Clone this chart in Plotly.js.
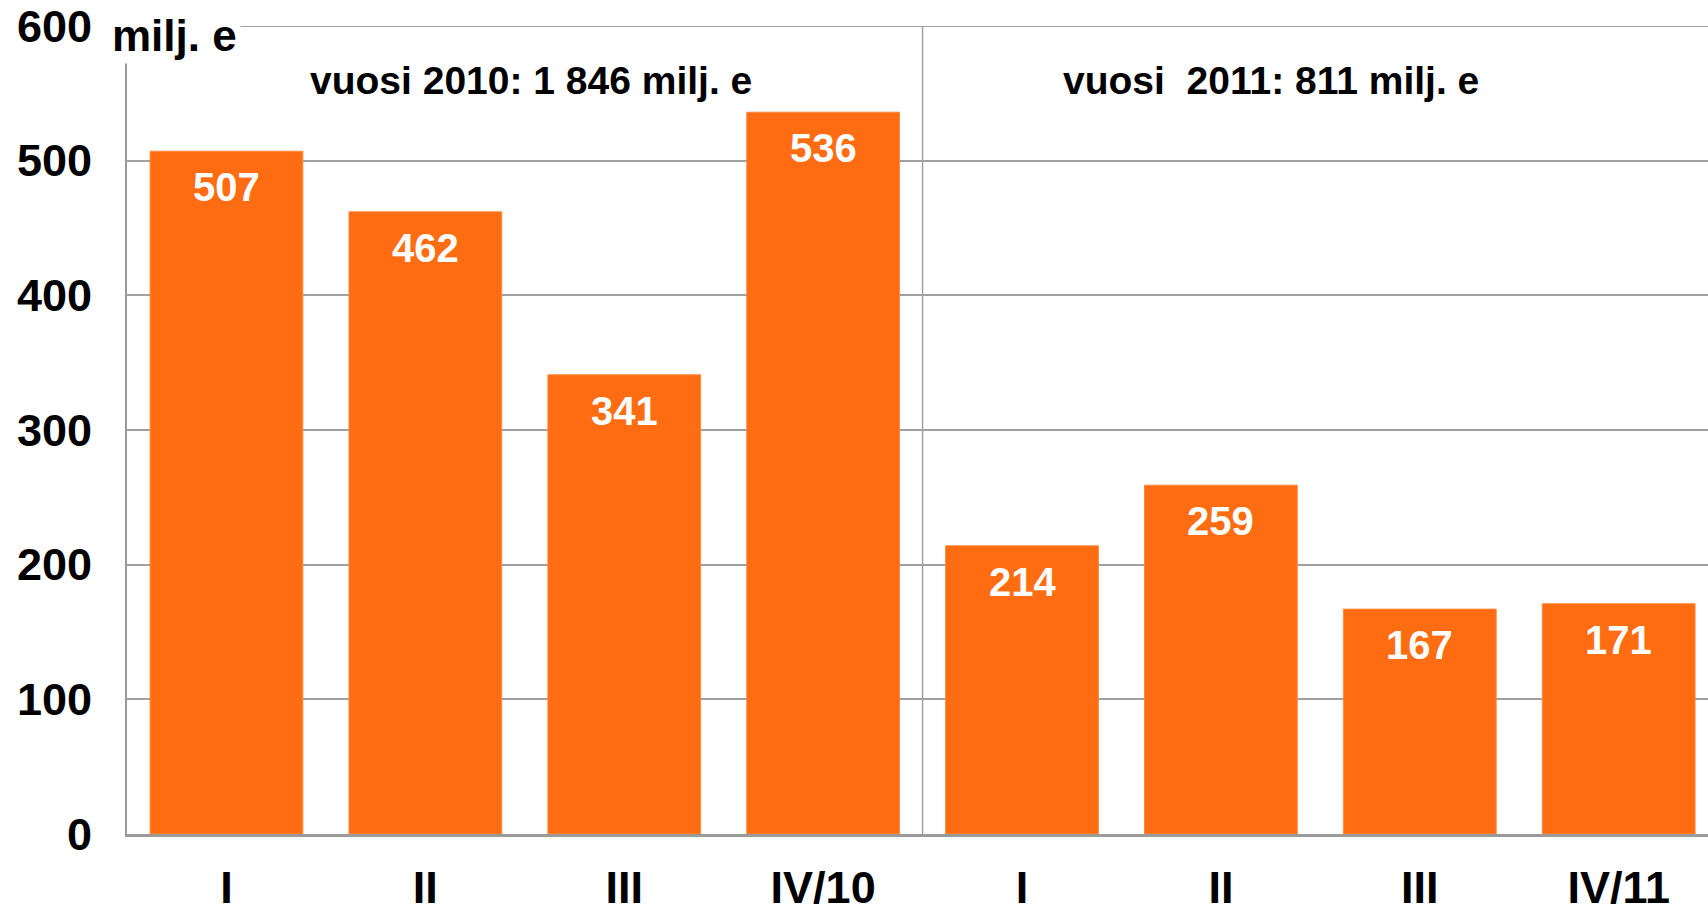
<!DOCTYPE html>
<html>
<head>
<meta charset="utf-8">
<script src="https://cdn.plot.ly/plotly-3.0.1.min.js"></script>
<style>
html,body{margin:0;padding:0;background:#fff;overflow:hidden;}
#chart{width:1708px;height:909px;}
</style>
</head>
<body>
<div id="chart"></div>
<script>
var quarterLabels = ['I', 'II', 'III', 'IV/10', 'I', 'II', 'III', 'IV/11'];
var values = [507, 462, 341, 536, 214, 259, 167, 171];
var yTicks = [0, 100, 200, 300, 400, 500, 600];
var unitLabel = 'milj. e';
var yearLabels = ['vuosi 2010: 1 846 milj. e', 'vuosi  2011: 811 milj. e'];
var yearCenters = [1.53, 5.25];

var FONT = 'Liberation Sans, Arial, Helvetica, sans-serif';
var xs = quarterLabels.map(function (_, i) { return i; });

var W = 1708, H = 909, mL = 127, mR = 0, mT = 26, mB = 75;
var pw = W - mL - mR, ph = H - mT - mB;
function py(p) { return 1 - (p - mT) / ph; }
function px(p) { return (p - mL) / pw; }

var trace = {
  type: 'bar',
  x: xs,
  y: values,
  marker: { color: '#FF6C11', line: { color: '#FF8A40', width: 1 } },
  hoverinfo: 'none',
  showlegend: false
};

var annotations = [];
values.forEach(function (v, i) {
  annotations.push({
    x: i, y: v, xref: 'x', yref: 'y',
    text: '<b>' + v + '</b>',
    showarrow: false,
    xanchor: 'center', yanchor: 'middle',
    yshift: -36,
    font: { family: FONT, size: 40, color: '#ffffff' }
  });
});
yearLabels.forEach(function (t, i) {
  annotations.push({
    x: yearCenters[i], y: py(80), xref: 'x', yref: 'paper',
    xanchor: 'center', yanchor: 'middle',
    text: '<b>' + t.replace(/  /g, '&nbsp; ') + '</b>',
    showarrow: false,
    font: { family: FONT, size: 39, color: '#000000' }
  });
});
annotations.push({
  x: px(174), y: py(35), xref: 'paper', yref: 'paper',
  xanchor: 'center', yanchor: 'middle',
  text: '<b>' + unitLabel + '</b>',
  showarrow: false,
  bgcolor: '#ffffff',
  borderpad: 3,
  font: { family: FONT, size: 44, color: '#000000' }
});

var layout = {
  width: W, height: H,
  margin: { l: mL, r: mR, t: mT, b: mB, pad: 0 },
  paper_bgcolor: '#ffffff',
  plot_bgcolor: '#ffffff',
  bargap: 0.232,
  font: { family: FONT, color: '#000000' },
  xaxis: {
    range: [-0.5, 7.449],
    tickmode: 'array',
    tickvals: xs,
    ticktext: quarterLabels.map(function (s) { return '<b>' + s + '</b>'; }),
    tickfont: { family: FONT, size: 45, color: '#000000' },
    showgrid: false,
    zeroline: false,
    showline: true,
    linecolor: '#9a9a9a',
    linewidth: 3,
    ticks: '',
    ticklabelstandoff: 12,
    fixedrange: true
  },
  yaxis: {
    range: [0, 600],
    tickmode: 'array',
    tickvals: yTicks,
    ticktext: yTicks.map(function (s) { return '<b>' + s + '</b>'; }),
    tickfont: { family: FONT, size: 45, color: '#000000' },
    showgrid: true,
    gridcolor: '#a0a0a0',
    gridwidth: 2,
    zeroline: false,
    showline: true,
    linecolor: '#9a9a9a',
    linewidth: 2,
    ticks: '',
    ticklabelstandoff: 24,
    fixedrange: true
  },
  shapes: [{
    type: 'line', xref: 'x', yref: 'paper',
    x0: 3.5, x1: 3.5, y0: 0, y1: 1,
    line: { color: '#a0a0a0', width: 1.5 },
    layer: 'below'
  }, {
    type: 'line', xref: 'paper', yref: 'y',
    x0: 0, x1: 1, y0: yTicks[yTicks.length - 1], y1: yTicks[yTicks.length - 1],
    line: { color: '#a0a0a0', width: 2 },
    layer: 'above'
  }],
  annotations: annotations
};

Plotly.newPlot('chart', [trace], layout, { displayModeBar: false, staticPlot: true });
</script>
</body>
</html>
